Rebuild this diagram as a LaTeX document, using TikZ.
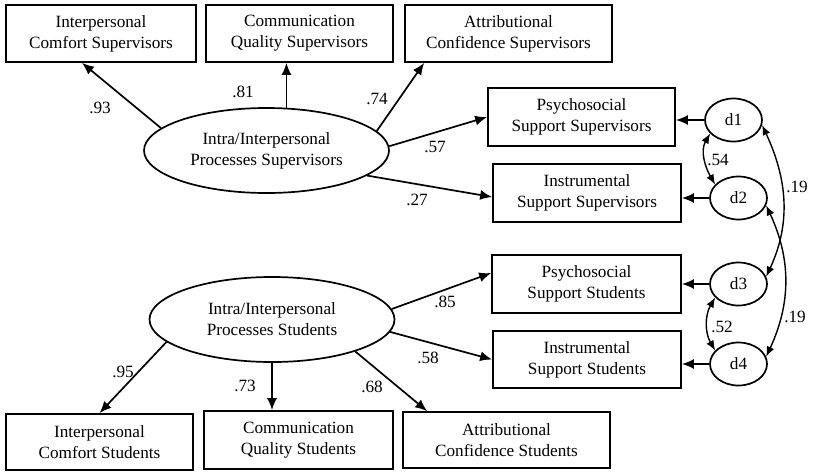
\documentclass[tikz,border=0pt]{standalone}
\usepackage{fontspec}
\setmainfont{Liberation Serif}
\usetikzlibrary{arrows.meta,shapes.geometric}

\begin{document}
\begin{tikzpicture}[
        x=1pt, y=-1pt,
        every node/.style={font=\fontsize{17.2}{21}\selectfont},
        box/.style={rectangle, draw, line width=1.7pt, minimum height=57pt, inner sep=0pt, align=center},
        latent/.style={ellipse, draw, line width=1.7pt, minimum width=245pt, minimum height=85pt, inner sep=0pt, align=center},
        resid/.style={ellipse, draw, line width=1.7pt, minimum width=57pt, minimum height=43pt, inner sep=0pt},
        coef/.style={inner sep=0pt},
        arrow/.style={-{Latex[length=12pt,width=10pt]}, line width=1.7pt},
        corr/.style={{Latex[length=10pt,width=8pt]}-{Latex[length=10pt,width=8pt]}, line width=1.4pt}
      ]
        \useasboundingbox (0,0) rectangle (813,472);
        % supervisors
        \node[box, minimum width=190pt] (icsup) at (101,33.5) {Interpersonal\\Comfort Supervisors};
        \node[box, minimum width=187pt] (cqsup) at (299.5,33.5) {Communication\\Quality Supervisors};
        \node[box, minimum width=207pt] (acsup) at (508.5,33.5) {Attributional\\Confidence Supervisors};
        \node[latent] (sup) at (266.5,150.5) {Intra/Interpersonal\\Processes Supervisors};
        \node[box, minimum width=187pt, minimum height=58pt] (pssup) at (581.5,117) {Psychosocial\\Support Supervisors};
        \node[box, minimum width=188pt, minimum height=58pt] (issup) at (587,193) {Instrumental\\Support Supervisors};
        % students
        \node[latent] (stu) at (272,319.5) {Intra/Interpersonal\\Processes Students};
        \node[box, minimum width=189pt, minimum height=58pt] (psstu) at (586.5,284) {Psychosocial\\Support Students};
        \node[box, minimum width=188pt] (isstu) at (587,359.5) {Instrumental\\Support Students};
        \node[box, minimum width=187pt, minimum height=56pt] (icstu) at (99.5,442) {Interpersonal\\Comfort Students};
        \node[box, minimum width=189pt, minimum height=58pt] (cqstu) at (298.5,440) {Communication\\Quality Students};
        \node[box, minimum width=207pt, minimum height=56pt] (acstu) at (506.5,440) {Attributional\\Confidence Students};
        % disturbances
        \node[resid] (d1) at (733.5,120) {d1};
        \node[resid] (d2) at (738.5,198) {d2};
        \node[resid] (d3) at (738.5,284) {d3};
        \node[resid] (d4) at (738.5,364) {d4};
        % coefficients
        \node[coef] (l93) at (100,108) {.93};
        \node[coef] (l81) at (243,92) {.81};
        \node[coef] (l74) at (377,99) {.74};
        \node[coef] (l57) at (435,147) {.57};
        \node[coef] (l27) at (417,200) {.27};
        \node[coef] (l85) at (445,302) {.85};
        \node[coef] (l58) at (428,358) {.58};
        \node[coef] (l95) at (123,372) {.95};
        \node[coef] (l73) at (245,386) {.73};
        \node[coef] (l68) at (372,387) {.68};
        \node[coef] (l54) at (718,160) {.54};
        \node[coef] (l52) at (722,327) {.52};
        \node[coef] (l19a) at (797,187) {.19};
        \node[coef] (l19b) at (795,317) {.19};
        % paths
        \draw[arrow] (sup.168.6) -- ([xshift=-19pt]icsup.south);
        \draw[arrow] (sup.65) -- (sup.65 |- cqsup.south);
        \draw[arrow] (sup.10.5) -- ([xshift=20pt]acsup.south west);
        \draw[arrow] (sup.2) -- (pssup.west);
        \draw[arrow] (sup.-14.5) -- ([yshift=-4pt]issup.west);
        \draw[arrow] (stu.5) -- ([yshift=11pt]psstu.west);
        \draw[arrow] (stu.-6) -- (isstu.west);
        \draw[arrow] (stu.192.6) -- (icstu.north);
        \draw[arrow] (stu.south) -- (stu.south |- cqstu.north);
        \draw[arrow] (stu.-21.9) -- ([xshift=25pt]acstu.north west);
        \draw[arrow] (d1.west) -- (d1.west -| pssup.east);
        \draw[arrow] (d2.west) -- (d2.west -| issup.east);
        \draw[arrow] (d3.west) -- (d3.west -| psstu.east);
        \draw[arrow] (d4.west) -- (d4.west -| isstu.east);
        % correlations
        \draw[corr] (d1.210) to[out=240, in=120] (d2.150);
        \draw[corr] (d3.210) to[out=240, in=120] (d4.150);
        \draw[corr] (d1.-10) to[out=-65, in=65] (d3.15);
        \draw[corr] (d2.-15) to[out=-65, in=65] (d4.15);
      \end{tikzpicture}
\end{document}
